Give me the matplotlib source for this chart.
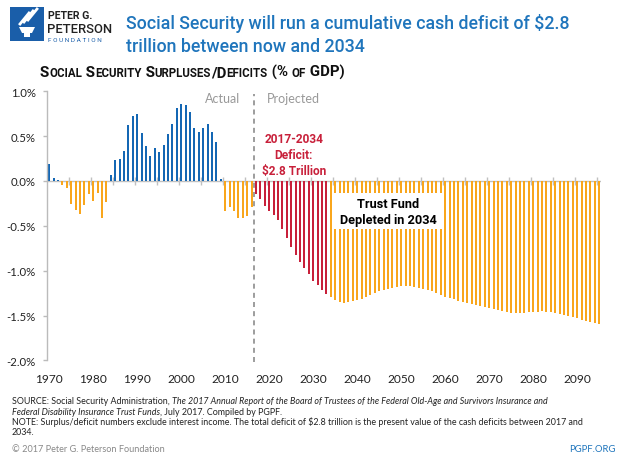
import numpy as np
import matplotlib
matplotlib.use("Agg")
import matplotlib.pyplot as plt
from matplotlib.patches import Rectangle, Polygon

# surplus (+) / deficit (-) as % of GDP
actual_years = list(range(1970, 2017))
actual_vals = [0.19, 0.03, 0.01, -0.05, -0.08, -0.26, -0.32, -0.37, -0.27, -0.14,
               -0.22, -0.13, -0.41, -0.23, 0.07, 0.23, 0.25, 0.34, 0.62, 0.72,
               0.75, 0.54, 0.39, 0.28, 0.37, 0.32, 0.40, 0.52, 0.63, 0.81,
               0.86, 0.85, 0.77, 0.59, 0.55, 0.59, 0.63, 0.55, 0.43, 0.02,
               -0.33, -0.29, -0.33, -0.41, -0.41, -0.39, -0.29]

proj_years = list(range(2017, 2096))
proj_vals = [-0.14, -0.20, -0.28, -0.33, -0.38, -0.44, -0.54, -0.64, -0.74, -0.82,
             -0.90, -0.97, -1.04, -1.11, -1.16, -1.22, -1.26,
             -1.29, -1.33, -1.35, -1.355, -1.35, -1.34, -1.33, -1.31, -1.29, -1.27,
             -1.25, -1.23, -1.21, -1.20, -1.19, -1.18, -1.17, -1.17, -1.17, -1.18,
             -1.19, -1.20, -1.21, -1.23, -1.25, -1.27, -1.29, -1.30, -1.32, -1.34,
             -1.35, -1.36, -1.37, -1.38, -1.39, -1.41, -1.42, -1.43, -1.44, -1.45,
             -1.46, -1.47, -1.47, -1.47, -1.47, -1.46, -1.46, -1.46, -1.45, -1.46,
             -1.46, -1.47, -1.48, -1.49, -1.51, -1.52, -1.53, -1.55, -1.56, -1.57,
             -1.58, -1.59]

depletion_year = 2034
xtick_years = list(range(1970, 2091, 10))
yticks = [1.0, 0.5, 0.0, -0.5, -1.0, -1.5, -2.0]

BLUE = "#1467b4"
ORANGE = "#f9a61c"
RED = "#c8203a"
GRAY = "#999999"
TITLE_BLUE = "#1f75bc"

W, H = 620, 456


def fx(x):
    return x / W


def fy(y):
    return 1 - y / H


def runs(fig, x, y, parts, **common):
    # place text pieces one after another (pixel coords, top-left origin)
    r = fig.canvas.get_renderer()
    for s, kw in parts:
        t = fig.text(fx(x), fy(y), s, va="baseline", ha="left", **common, **kw)
        x += t.get_window_extent(renderer=r).width
    return x


def smallcaps(fig, x, y, s, big, small, **kw):
    parts = []
    cur, cur_small = "", None
    for ch in s:
        is_small = ch.islower()
        if cur_small is None or is_small == cur_small:
            cur += ch
        else:
            parts.append((cur, cur_small))
            cur = ch
        cur_small = is_small
    parts.append((cur, cur_small))
    parts = [(p.upper(), {"fontsize": small if sm else big}) for p, sm in parts]
    runs(fig, x, y, parts, **kw)


fig = plt.figure(figsize=(6.2, 4.56), dpi=100)
fig.canvas.draw()

ax = fig.add_axes([fx(47), fy(361.4), 554.4 / W, 269.1 / H])

colors = [BLUE if v > 0 else ORANGE for v in actual_vals]
colors += [RED if yr < depletion_year else ORANGE for yr in proj_years]
ax.bar(actual_years + proj_years, actual_vals + proj_vals, width=0.5,
       color=colors, zorder=2)

ax.set_xlim(1969.5, 2095.5)
ax.set_ylim(-2.0, 1.0)

for s in ["top", "right", "bottom"]:
    ax.spines[s].set_visible(False)
ax.spines["left"].set_color("#bbbbbb")
ax.spines["left"].set_linewidth(1)

ax.set_yticks(yticks)
ax.set_yticklabels([f"{v:.1f}%" for v in yticks], fontfamily="Lato",
                   fontsize=8.2, color="#222222")
ax.tick_params(axis="y", length=3, width=1, color="#bbbbbb", pad=5)
ax.set_xticks(xtick_years)
ax.set_xticklabels([str(y) for y in xtick_years], fontfamily="Lato",
                   fontsize=8.6, color="#222222")
ax.tick_params(axis="x", length=0, pad=9)

# zero line with tick marks every 5 years
ax.axhline(0, color="#c0c0c0", lw=1, zorder=1)
ax.plot(np.arange(1974.5, 2095, 5), np.zeros(25), ls="none", marker="|",
        ms=6, mew=1, color="#c0c0c0", zorder=1, clip_on=False)

# actual / projected divider
ax.plot([2016.5, 2016.5], [-2.02, 0.97], ls=(0, (3, 2.5)), lw=1.2,
        color="#8c8c8c", clip_on=False, zorder=3)
ax.text(2009.5, 0.92, "Actual", ha="center", va="center", fontfamily="Lato",
        fontsize=9, color=GRAY)
ax.text(2025.6, 0.92, "Projected", ha="center", va="center", fontfamily="Lato",
        fontsize=9, color=GRAY)

ax.text(2025.6, 0.30, "2017-2034\nDeficit:\n$2.8 Trillion", ha="center",
        va="center", fontfamily="Roboto", fontweight="bold", fontsize=8.6,
        color=RED, linespacing=1.3, zorder=4)

ax.add_patch(Rectangle((2034.6, -0.535), 24.9, 0.40, facecolor="white",
                       edgecolor="none", zorder=3))
ax.text(2047.0, -0.34, "Trust Fund\nDepleted in 2034", ha="center", va="center",
        fontfamily="Roboto", fontweight="bold", fontsize=9.2, color="black",
        linespacing=1.3, zorder=4)

# logo
fig.patches.append(Rectangle((fx(10), fy(42)), 34 / W, 34 / H, facecolor="#1a5ea9",
                             edgecolor="none", transform=fig.transFigure))
fig.patches.append(Polygon([(fx(19), fy(28)), (fx(35), fy(28)), (fx(32), fy(34)),
                            (fx(22), fy(34))], closed=True, facecolor="white",
                           edgecolor="none", transform=fig.transFigure))
fig.patches.append(Rectangle((fx(24), fy(38)), 6 / W, 4 / H, facecolor="white",
                             edgecolor="none", transform=fig.transFigure))
for dx in (0, 4, 8):
    fig.lines.append(plt.Line2D([fx(20 + dx), fx(29 + dx)], [fy(25 - dx / 2), fy(14 - dx / 2)],
                                color="white", lw=2, transform=fig.transFigure))
fig.text(fx(48), fy(19), "PETER G.", fontfamily="Roboto", fontweight="bold",
         fontsize=7.6, color="#222222", va="baseline")
fig.text(fx(47), fy(33), "PETERSON", fontfamily="Roboto", fontweight="medium",
         fontsize=9.4, color="#222222", va="baseline")
fig.text(fx(48), fy(42), "F O U N D A T I O N", fontfamily="Roboto",
         fontsize=4.6, color="#1a5ea9", va="baseline")

# title
fig.text(fx(126), fy(29), "Social Security will run a cumulative cash deficit of $2.8",
         fontfamily="Roboto", fontweight="medium", fontsize=12.8, color=TITLE_BLUE,
         va="baseline")
fig.text(fx(126), fy(52), "trillion between now and 2034",
         fontfamily="Roboto", fontweight="medium", fontsize=12.8, color=TITLE_BLUE,
         va="baseline")

smallcaps(fig, 40, 77, "Social Security Surpluses/Deficits (% of GDP)", 10.8, 8.3,
          fontfamily="Roboto", fontweight="bold", color="#111111")

# footer
foot = dict(fontfamily="Lato", fontsize=6.4, color="#222222")
runs(fig, 12, 404, [("SOURCE: Social Security Administration, ", {}),
                    ("The 2017 Annual Report of the Board of Trustees of the Federal "
                     "Old-Age and Survivors Insurance and", {"style": "italic"})], **foot)
runs(fig, 12, 415, [("Federal Disability Insurance Trust Funds", {"style": "italic"}),
                    (", July 2017. Compiled by PGPF.", {})], **foot)
runs(fig, 12, 425, [("NOTE: Surplus/deficit numbers exclude interest income. The total "
                     "deficit of $2.8 trillion is the present value of the cash deficits "
                     "between 2017 and", {})], **foot)
runs(fig, 12, 435, [("2034.", {})], **foot)
fig.text(fx(12), fy(452.5), "\u00a9 2017 Peter G. Peterson Foundation",
         fontfamily="Lato", fontsize=6.6, color="#888888", va="baseline")
fig.text(fx(615), fy(452.5), "PGPF.ORG", fontfamily="Lato", fontsize=6.8,
         color=TITLE_BLUE, va="baseline", ha="right")

fig.savefig("out.png", dpi=100)
